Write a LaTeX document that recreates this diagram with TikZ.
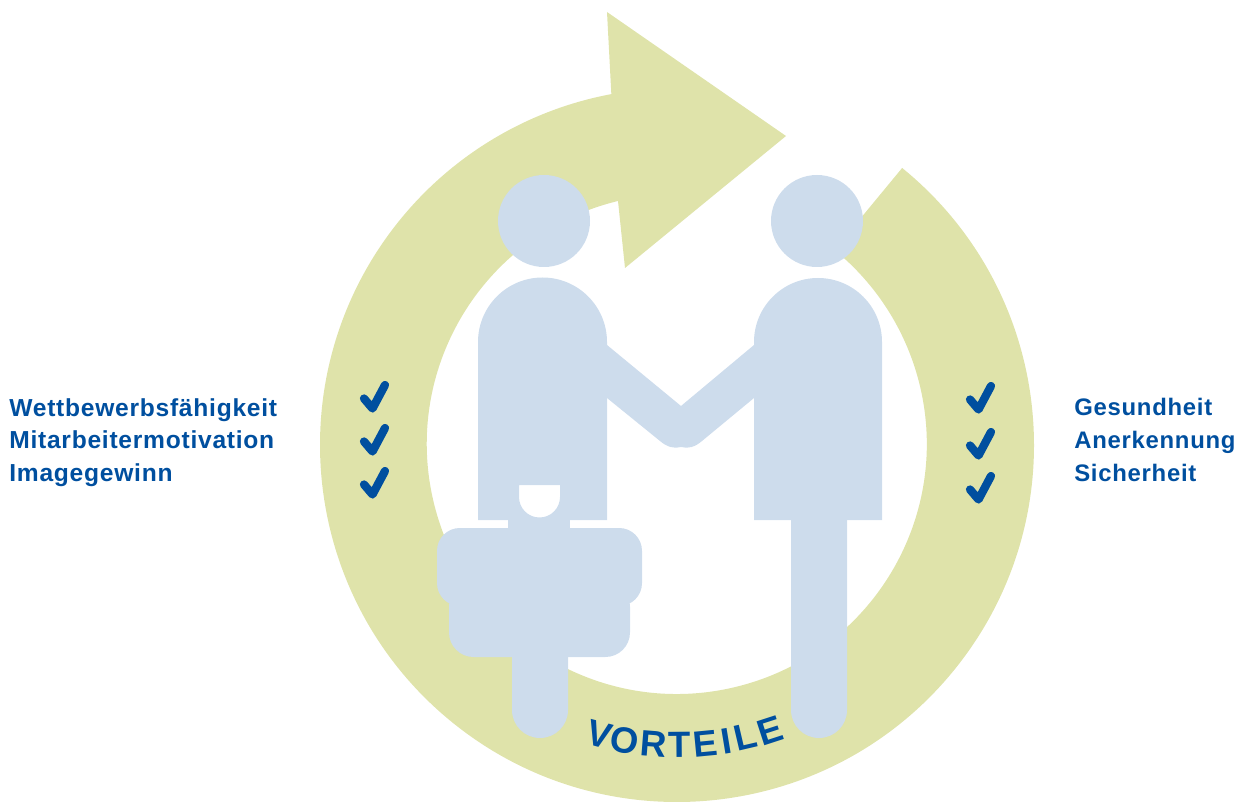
\documentclass[tikz,border=0pt]{standalone}
\usepackage{fontspec}
\setmainfont{Liberation Sans}
\newfontfamily\labelfont[LetterSpace=3]{Liberation Sans Bold}
\newfontfamily\titlefont{Liberation Sans Bold}
\definecolor{ringgreen}{HTML}{DFE3AA}
\definecolor{personblue}{HTML}{CDDCEC}
\definecolor{textblue}{HTML}{004F9F}

\begin{document}
\begin{tikzpicture}[x=0.02cm,y=0.02cm,
    person part/.style={fill=personblue,draw=none},
    check mark/.style={draw=textblue,line width=0.165cm,line cap=round,line join=round},
    label list/.style={text=textblue,font=\labelfont\fontsize{14}{18.6}\selectfont,align=left,inner sep=0pt},
    title letter/.style={text=textblue,font=\titlefont\fontsize{20.8}{21}\selectfont,inner sep=0pt}]
    \useasboundingbox (0,0) rectangle (1244,802);

    % ring with arrow head
    \coordinate (centre) at (677,357);
    \fill[ringgreen]
        ([shift={(50.9:357)}]centre) arc[start angle=50.9,end angle=-259.4,radius=357]
        -- (607,790) -- (786,666) -- (625,534) -- (618,601)
        arc[start angle=-256.4,end angle=50.9,radius=250] -- cycle;

    % left person
    \fill[person part] (544,581) circle (46);
    \fill[person part,even odd rule] (478,282) -- (478,460) arc[start angle=180,end angle=0,radius=64.5] -- (607,282) -- cycle
        (519,317) -- (560,317) -- (560,305) arc[start angle=0,end angle=-180,radius=20.5] -- cycle;
    \fill[person part] (508,282) rectangle (570,270);
    \fill[person part,rounded corners=13] (437,274) rectangle (642,196);
    \fill[person part,rounded corners=14] (449,220) rectangle (630,145);
    \fill[person part] (512,150) -- (512,92) arc[start angle=180,end angle=360,radius=28] -- (568,150) -- cycle;

    % right person
    \fill[person part] (817,581) circle (46);
    \fill[person part] (754,282) -- (754,460) arc[start angle=180,end angle=0,radius=64] -- (882,282) -- cycle;
    \fill[person part] (791,290) -- (791,92) arc[start angle=180,end angle=360,radius=28] -- (847,290) -- cycle;

    % arms
    \fill[person part] (600,463) -- (607,457) -- (681,396) -- (754,457) -- (760,463) -- (760,400) -- (754,404) -- (702,361)
        .. controls (695,355) and (688,353) .. (681,355) .. controls (674,353) and (667,355) .. (660,361)
        -- (607,404) -- (600,400) -- cycle;

    % check marks
    \foreach \y in {417,374,331} {
        \draw[check mark] (364,\y-13.5) -- (372.5,\y-23.5) -- (385,\y);
    }
    \foreach \y in {416,370,326} {
        \draw[check mark] (970,\y-13.5) -- (978.5,\y-23.5) -- (991,\y);
    }

    % labels
    \node[label list,anchor=west] (benefitsleft) at (9,359.5) {Wettbewerbsfähigkeit\\Mitarbeitermotivation\\Imagegewinn};
    \node[label list,anchor=west,font=\labelfont\fontsize{13.6}{18.6}\selectfont] (benefitsright) at (1074,362) {Gesundheit\\Anerkennung\\Sicherheit};

    % curved title
    \foreach \ch/\a [count=\i] in {V/-15,O/-10,R/-4.5,T/0.5,E/5.5,I/9.4,L/13.2,E/18} {
        \node[title letter,rotate=\a] (title\i) at ([shift={(270+\a:300)}]centre) {\ch};
    }
\end{tikzpicture}
\end{document}
